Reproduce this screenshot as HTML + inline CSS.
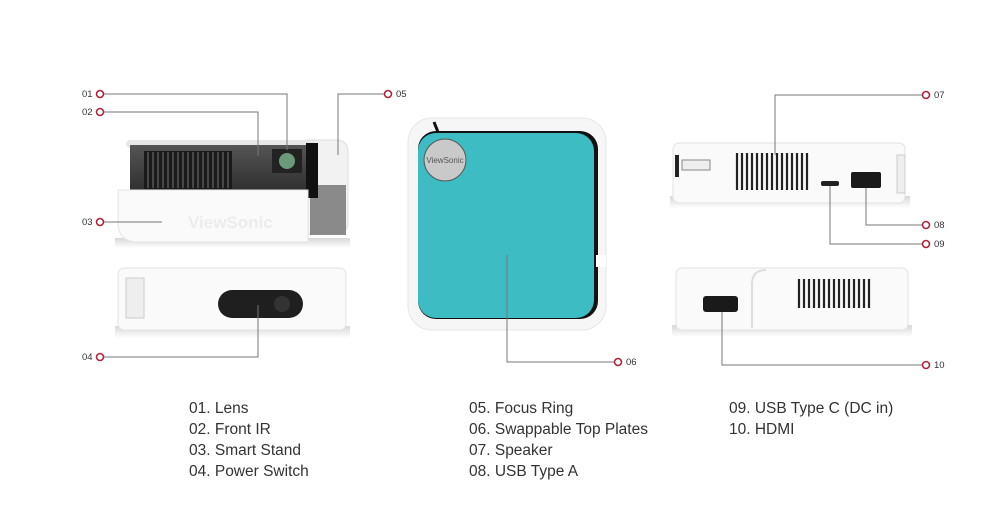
<!DOCTYPE html>
<html><head><meta charset="utf-8"><style>
html,body{margin:0;padding:0;background:#fff;}
svg{display:block}
text{font-family:"Liberation Sans",sans-serif;}
</style></head><body>
<svg width="1000" height="520" viewBox="0 0 1000 520" xmlns="http://www.w3.org/2000/svg">
<defs>
<linearGradient id="shadow" x1="0" y1="0" x2="0" y2="1"><stop offset="0" stop-color="#d8d8d8"/><stop offset="1" stop-color="#fff"/></linearGradient>
<linearGradient id="dark" x1="0" y1="0" x2="0" y2="1"><stop offset="0" stop-color="#555"/><stop offset="1" stop-color="#2a2a2a"/></linearGradient>
</defs>
<!-- Left top device -->
<rect x="115" y="238" width="235" height="10" fill="url(#shadow)"/>
<path d="M306 140 h30 q12 0 12 12 v70 q0 12 -12 12 h-30z" fill="#f2f2f2" stroke="#ddd"/>
<rect x="310" y="185" width="36" height="50" fill="#8a8a8a"/>
<rect x="126" y="140" width="190" height="8" rx="4" fill="#e8e8e8"/>
<rect x="130" y="145" width="188" height="52" fill="url(#dark)"/>
<rect x="306" y="143" width="12" height="55" fill="#111"/>
<g fill="#1a1a1a"><rect x="144" y="151" width="88" height="38"/></g>
<g stroke="#666" stroke-width="1.2">
<line x1="148" y1="152" x2="148" y2="188"/><line x1="153" y1="152" x2="153" y2="188"/><line x1="158" y1="152" x2="158" y2="188"/><line x1="163" y1="152" x2="163" y2="188"/><line x1="168" y1="152" x2="168" y2="188"/><line x1="173" y1="152" x2="173" y2="188"/><line x1="178" y1="152" x2="178" y2="188"/><line x1="183" y1="152" x2="183" y2="188"/><line x1="188" y1="152" x2="188" y2="188"/><line x1="193" y1="152" x2="193" y2="188"/><line x1="198" y1="152" x2="198" y2="188"/><line x1="203" y1="152" x2="203" y2="188"/><line x1="208" y1="152" x2="208" y2="188"/><line x1="213" y1="152" x2="213" y2="188"/><line x1="218" y1="152" x2="218" y2="188"/><line x1="223" y1="152" x2="223" y2="188"/><line x1="228" y1="152" x2="228" y2="188"/>
</g>
<rect x="272" y="149" width="30" height="24" fill="#222"/>
<circle cx="287" cy="161" r="8" fill="#6a9a7a"/>
<path d="M118 190 h190 v52 h-170 q-20 0 -20 -20z" fill="#fafafa" stroke="#e4e4e4"/>
<text x="188" y="228" font-size="17" fill="#ececec" font-weight="bold">ViewSonic</text>
<!-- Left bottom device -->
<rect x="115" y="326" width="235" height="12" fill="url(#shadow)"/>
<rect x="118" y="268" width="228" height="62" rx="6" fill="#fafafa" stroke="#e2e2e2"/>
<rect x="126" y="278" width="18" height="40" fill="#eee" stroke="#ccc"/>
<rect x="218" y="290" width="85" height="28" rx="14" fill="#1f1f1f"/>
<circle cx="282" cy="304" r="8" fill="#333"/>
<!-- Center -->
<rect x="408" y="118" width="198" height="212" rx="24" fill="#f6f6f6" stroke="#e6e6e6"/>
<path d="M434 122 l4 10" stroke="#111" stroke-width="3"/>
<rect x="418" y="131" width="180" height="188" rx="18" fill="#111"/>
<rect x="418" y="133" width="176" height="185" rx="18" fill="#3dbcc3"/>
<rect x="596" y="255" width="10" height="12" fill="#fff"/>
<circle cx="445" cy="160" r="21" fill="#c9c9c9" stroke="#555" stroke-width="1"/>
<text x="445" y="163" font-size="8" fill="#555" text-anchor="middle" font-family="Liberation Serif">ViewSonic</text>
<!-- Right top device -->
<rect x="670" y="196" width="240" height="12" fill="url(#shadow)"/>
<rect x="673" y="143" width="232" height="60" rx="6" fill="#fafafa" stroke="#e2e2e2"/>
<rect x="675" y="155" width="4" height="22" fill="#222"/>
<rect x="682" y="160" width="28" height="10" fill="#eee" stroke="#888"/>
<g stroke="#222" stroke-width="2.2">
<line x1="737" y1="153" x2="737" y2="190"/><line x1="742" y1="153" x2="742" y2="190"/><line x1="747" y1="153" x2="747" y2="190"/><line x1="752" y1="153" x2="752" y2="190"/><line x1="757" y1="153" x2="757" y2="190"/><line x1="762" y1="153" x2="762" y2="190"/><line x1="767" y1="153" x2="767" y2="190"/><line x1="772" y1="153" x2="772" y2="190"/><line x1="777" y1="153" x2="777" y2="190"/><line x1="782" y1="153" x2="782" y2="190"/><line x1="787" y1="153" x2="787" y2="190"/><line x1="792" y1="153" x2="792" y2="190"/><line x1="797" y1="153" x2="797" y2="190"/><line x1="802" y1="153" x2="802" y2="190"/><line x1="807" y1="153" x2="807" y2="190"/>
</g>
<rect x="821" y="181" width="18" height="5" rx="2" fill="#222"/>
<rect x="851" y="172" width="30" height="16" rx="2" fill="#1a1a1a"/>
<rect x="897" y="155" width="8" height="38" fill="#eee" stroke="#ccc"/>
<!-- Right bottom device -->
<rect x="672" y="325" width="240" height="12" fill="url(#shadow)"/>
<rect x="676" y="268" width="232" height="62" rx="6" fill="#fafafa" stroke="#e2e2e2"/>
<path d="M766 270 q-14 0 -14 14 v44" stroke="#ddd" fill="none" stroke-width="2"/>
<rect x="703" y="296" width="35" height="16" rx="3" fill="#1a1a1a"/>
<g stroke="#222" stroke-width="2.2">
<line x1="799" y1="279" x2="799" y2="308"/><line x1="804" y1="279" x2="804" y2="308"/><line x1="809" y1="279" x2="809" y2="308"/><line x1="814" y1="279" x2="814" y2="308"/><line x1="819" y1="279" x2="819" y2="308"/><line x1="824" y1="279" x2="824" y2="308"/><line x1="829" y1="279" x2="829" y2="308"/><line x1="834" y1="279" x2="834" y2="308"/><line x1="839" y1="279" x2="839" y2="308"/><line x1="844" y1="279" x2="844" y2="308"/><line x1="849" y1="279" x2="849" y2="308"/><line x1="854" y1="279" x2="854" y2="308"/><line x1="859" y1="279" x2="859" y2="308"/><line x1="864" y1="279" x2="864" y2="308"/><line x1="869" y1="279" x2="869" y2="308"/>
</g>
<!-- Leaders -->
<g fill="none" stroke="#777" stroke-width="1">
<polyline points="104,94 287,94 287,150"/>
<polyline points="104,112 258,112 258,156"/>
<line x1="104" y1="222" x2="162" y2="222"/>
<polyline points="104,357 258,357 258,305"/>
<polyline points="384,94 338,94 338,155"/>
<polyline points="614,362 507,362 507,255"/>
<polyline points="922,95 775,95 775,155"/>
<polyline points="922,225 866,225 866,188"/>
<polyline points="922,244 830,244 830,186"/>
<polyline points="922,365 722,365 722,312"/>
</g>
<g fill="#fff" stroke="#b0243a" stroke-width="1.6">
<circle cx="100" cy="94" r="3.5"/><circle cx="100" cy="112" r="3.5"/><circle cx="100" cy="222" r="3.5"/><circle cx="100" cy="357" r="3.5"/>
<circle cx="388" cy="94" r="3.5"/><circle cx="618" cy="362" r="3.5"/>
<circle cx="926" cy="95" r="3.5"/><circle cx="926" cy="225" r="3.5"/><circle cx="926" cy="244" r="3.5"/><circle cx="926" cy="365" r="3.5"/>
</g>
<g font-size="9.5" fill="#333">
<text x="82" y="97">01</text><text x="82" y="115">02</text><text x="82" y="225">03</text><text x="82" y="360">04</text>
<text x="396" y="97">05</text><text x="626" y="365">06</text>
<text x="934" y="98">07</text><text x="934" y="228">08</text><text x="934" y="247">09</text><text x="934" y="368">10</text>
</g>
<g font-size="15.5" fill="#333">
<text x="189" y="413">01. Lens</text><text x="189" y="434">02. Front IR</text><text x="189" y="455">03. Smart Stand</text><text x="189" y="476">04. Power Switch</text>
<text x="469" y="413">05. Focus Ring</text><text x="469" y="434">06. Swappable Top Plates</text><text x="469" y="455">07. Speaker</text><text x="469" y="476">08. USB Type A</text>
<text x="729" y="413">09. USB Type C (DC in)</text><text x="729" y="434">10. HDMI</text>
</g>
</svg>
</body></html>
